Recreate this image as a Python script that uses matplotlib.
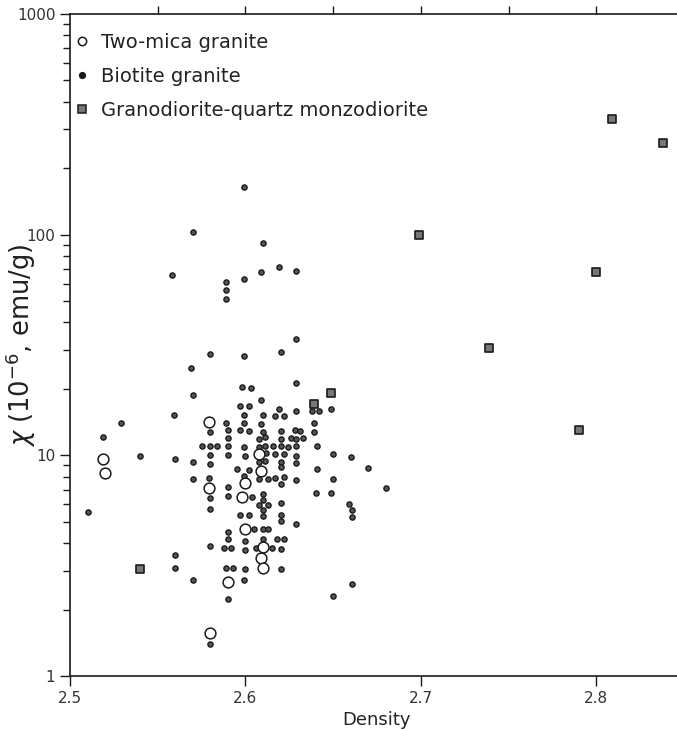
import matplotlib
matplotlib.use("Agg")
import matplotlib.pyplot as plt
from matplotlib.lines import Line2D
import numpy as np

# Two-mica granite (open circles)
mica_density = [2.579, 2.519, 2.520, 2.608, 2.609, 2.600, 2.579, 2.598,
                2.600, 2.610, 2.609, 2.610, 2.590, 2.580]
mica_chi = [14.2, 9.65, 8.29, 10.1, 8.52, 7.47, 7.09, 6.49,
            4.62, 3.83, 3.42, 3.08, 2.68, 1.57]

# Biotite granite (small dots)
bio_density = [2.599, 2.570, 2.610, 2.558, 2.589, 2.589, 2.589, 2.599, 2.609, 2.619, 2.629,
               2.629, 2.620, 2.599, 2.580, 2.569,
               2.598, 2.603, 2.629, 2.570, 2.609, 2.597, 2.602, 2.619, 2.649, 2.629, 2.638, 2.642,
               2.559, 2.599, 2.610, 2.617, 2.622, 2.529, 2.589, 2.599, 2.609, 2.639,
               2.580, 2.590, 2.597, 2.602, 2.610, 2.620, 2.628, 2.631, 2.639,
               2.519, 2.590, 2.608, 2.611, 2.620, 2.626, 2.629, 2.633,
               2.575, 2.580, 2.584, 2.590, 2.599, 2.608, 2.611, 2.616, 2.620, 2.624, 2.629, 2.641,
               2.612, 2.617, 2.622, 2.540, 2.560, 2.580, 2.590, 2.600, 2.629, 2.650, 2.660,
               2.608, 2.611, 2.620, 2.570, 2.580, 2.629, 2.620, 2.595, 2.602, 2.641, 2.599,
               2.570, 2.579, 2.608, 2.613, 2.617, 2.622, 2.629, 2.650, 2.620, 2.590,
               2.580, 2.590, 2.604, 2.610, 2.610, 2.620, 2.640, 2.649,
               2.608, 2.613, 2.610, 2.510, 2.580, 2.659, 2.661, 2.661,
               2.597, 2.602, 2.610, 2.620, 2.620, 2.629, 2.605, 2.610, 2.613, 2.590,
               2.590, 2.600, 2.610, 2.618, 2.622,
               2.580, 2.588, 2.592, 2.600, 2.606, 2.615, 2.620, 2.560,
               2.560, 2.589, 2.593, 2.600, 2.620, 2.570, 2.599, 2.661, 2.590, 2.650,
               2.670, 2.680, 2.580]
bio_chi = [165, 103, 92, 65.6, 61, 56, 51, 63, 68, 71, 68.6,
           33.6, 29.4, 28.2, 28.8, 25,
           20.3, 20.1, 21.2, 18.8, 17.8, 16.8, 16.7, 16.2, 16.2, 15.9, 15.8, 15.8,
           15.2, 15.2, 15.2, 15.1, 15.0, 14.0, 14.05, 14.05, 13.8, 14.0,
           12.8, 13.0, 13.0, 12.9, 12.8, 12.9, 13.0, 12.9, 12.75,
           12.1, 11.94, 11.86, 12.07, 11.8, 11.98, 11.9, 11.98,
           11.0, 11.0, 11.05, 11.0, 10.9, 10.94, 11.0, 11.0, 11.0, 10.9, 11.0, 11.0,
           10.2, 10.1, 10.1, 9.93, 9.62, 10.0, 10.0, 9.95, 9.95, 10.1, 9.86,
           9.35, 9.45, 9.35, 9.32, 9.13, 9.2, 8.82, 8.64, 8.58, 8.64, 8.06,
           7.79, 7.89, 7.79, 7.81, 7.89, 7.95, 7.73, 7.79, 7.39, 7.16,
           6.39, 6.54, 6.45, 6.66, 6.27, 6.10, 6.73, 6.73,
           5.95, 5.95, 5.65, 5.55, 5.69, 6.0, 5.65, 5.24,
           5.35, 5.35, 5.32, 5.38, 5.05, 4.88, 4.62, 4.62, 4.62, 4.51,
           4.16, 4.09, 4.18, 4.18, 4.18,
           3.88, 3.81, 3.81, 3.72, 3.79, 3.81, 3.76, 3.52,
           3.08, 3.08, 3.08, 3.06, 3.05, 2.72, 2.72, 2.60, 2.23, 2.30,
           8.75, 7.11, 1.40]

# Granodiorite-quartz monzodiorite (squares)
grano_density = [2.540, 2.639, 2.649, 2.699, 2.739, 2.790, 2.800, 2.809, 2.838]
grano_chi = [3.05, 17.1, 19.2, 100, 30.5, 13.0, 67.5, 336, 259]

x_ticks = [2.5, 2.6, 2.7, 2.8]
x_ticklabels = ["2.5", "2.6", "2.7", "2.8"]
y_ticks = [1, 10, 100, 1000]
y_ticklabels = ["1", "10", "100", "1000"]

ink = "#1a1a1a"
plt.rcParams['font.family'] = ['DejaVu Sans']

fig = plt.figure(figsize=(6.77, 7.31), dpi=100)
ax = fig.add_axes([70 / 677, 55 / 731, 614 / 677, 662 / 731])

ax.scatter(bio_density, bio_chi, s=14, facecolor="#555555", edgecolor=ink,
           linewidth=1.0, zorder=3)
ax.scatter(mica_density, mica_chi, s=60, facecolor="white", edgecolor=ink,
           linewidth=1.1, zorder=4)
ax.scatter(grano_density, grano_chi, s=30, marker="s", facecolor="#777777",
           edgecolor=ink, linewidth=1.2, zorder=4)

ax.set_yscale("log")
ax.set_xlim(2.5, 2.85)
ax.set_ylim(1, 1000)

ax.set_xticks(x_ticks)
ax.set_xticklabels(x_ticklabels)
ax.set_yticks(y_ticks)
ax.set_yticklabels(y_ticklabels)
ax.tick_params(axis="both", which="major", direction="out", length=7, width=1,
               labelsize=11, colors=ink, labelcolor="#333333")
ax.tick_params(axis="y", which="minor", direction="out", length=5, width=1, colors=ink)
ax.tick_params(axis="x", which="minor", bottom=False)

# top ticks every 0.05
top = ax.secondary_xaxis("top")
top.set_xticks(np.arange(2.55, 2.83, 0.05))
top.set_xticklabels([])
top.tick_params(direction="out", length=6, width=1, colors=ink)
top.spines["top"].set_visible(False)

for side in ["left", "bottom", "top"]:
    ax.spines[side].set_linewidth(1.2)
    ax.spines[side].set_color(ink)
ax.spines["right"].set_visible(False)

ax.set_xlabel("Density", fontsize=13, color="#222222", labelpad=4)
ax.set_ylabel(r"$\chi$ (10$^{-6}$, emu/g)", fontsize=18.5, color="#222222")
ax.yaxis.set_label_coords(-0.052, 0.5)

handles = [
    Line2D([], [], linestyle="none", marker="o", markersize=6, markerfacecolor="white",
           markeredgecolor=ink, markeredgewidth=1.1),
    Line2D([], [], linestyle="none", marker="o", markersize=4.2, markerfacecolor=ink,
           markeredgecolor=ink),
    Line2D([], [], linestyle="none", marker="s", markersize=5.5, markerfacecolor="#777777",
           markeredgecolor=ink, markeredgewidth=1.1),
]
labels = ["Two-mica granite", "Biotite granite", "Granodiorite-quartz monzodiorite"]
ax.legend(handles, labels, loc="upper left", bbox_to_anchor=(0.007, 0.972),
          frameon=False, fontsize=14, borderpad=0, borderaxespad=0,
          handletextpad=0.55, labelspacing=0.78, handlelength=0.8,
          labelcolor="#222222")

fig.savefig("out.png", dpi=100)
